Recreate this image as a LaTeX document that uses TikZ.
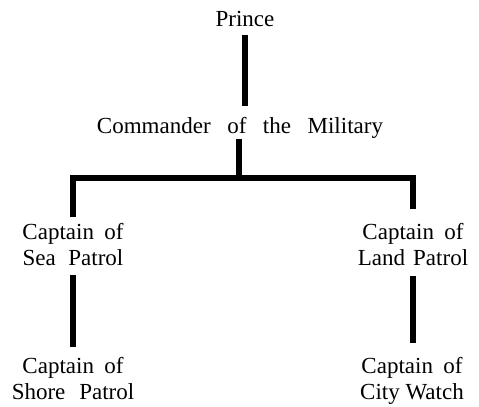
\documentclass[tikz,border=0pt]{standalone}
\usepackage{fontspec}
\setmainfont{Liberation Serif}
\begin{document}
\begin{tikzpicture}[x=1bp,y=-1bp,
  lbl/.style={inner sep=0pt,align=center,font=\fontsize{23bp}{26bp}\selectfont},
  conn/.style={line width=6bp,line cap=butt,line join=miter}]
\useasboundingbox (0,0) rectangle (479,406);
\node[lbl,anchor=base] (prince) at (245,26) {Prince};
\node[lbl,anchor=base] (cmd) at (240,133) {Commander\hspace{0.72em}of\hspace{0.72em}the\hspace{0.72em}Military};
\node[lbl,anchor=north] (sea) at (73,223.5) {Captain\hspace{0.45em}of\\Sea\hspace{0.55em}Patrol};
\node[lbl,anchor=north] (land) at (413,223.5) {Captain\hspace{0.45em}of\\Land\hspace{0.35em}Patrol};
\node[lbl,anchor=north] (shore) at (73,357.4) {Captain\hspace{0.45em}of\\Shore\hspace{0.6em}Patrol};
\node[lbl,anchor=north] (city) at (412,357.4) {Captain\hspace{0.45em}of\\City Watch};
\coordinate (bar) at (239,178);
\draw[conn,shorten <=9bp,shorten >=10.4bp] (prince.south) -- (prince.south |- cmd.north);
\draw[conn,shorten <=1bp] (cmd.south -| bar) -- (bar);
\draw[conn,shorten >=6.5bp] (bar) -| (sea.north);
\draw[conn,shorten >=14.5bp] (bar) -| (land.north);
\draw[conn,shorten <=9bp,shorten >=10.4bp] (sea.south) -- (sea.south |- shore.north);
\draw[conn,shorten <=10bp,shorten >=14.4bp] (land.south) -- (land.south |- city.north);
\end{tikzpicture}
\end{document}
